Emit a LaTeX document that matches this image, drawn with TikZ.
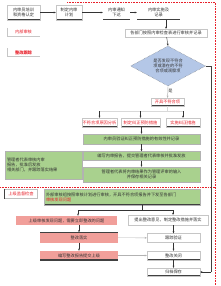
\documentclass[tikz,border=0pt]{standalone}
\usepackage{fontspec}
\newfontfamily\cjk{Noto Sans CJK SC}
\usetikzlibrary{arrows.meta,shapes.geometric}
\definecolor{gfill}{HTML}{A9D18E}
\definecolor{pfill}{HTML}{F19F9A}
\definecolor{bfill}{HTML}{B4C7E7}
\definecolor{rtext}{HTML}{E8202A}
\begin{document}
\begin{tikzpicture}[x=1pt,y=-1pt,
  >={Stealth[length=2.2pt,width=1.8pt]},
  every node/.style={font=\cjk\fontsize{4.2}{5.2}\selectfont, inner sep=0.5pt, align=center, text=black!80},
  box/.style={draw=gray!45, line width=0.3pt, minimum width=#1},
  box/.default=30,
  bb/.style={path picture={\draw[line width=1.4pt,black!75] (path picture bounding box.south west) -- (path picture bounding box.south east);}},
  tb/.style={path picture={\draw[line width=1.4pt,black!75] (path picture bounding box.north west) -- (path picture bounding box.north east);}},
  lb/.style={path picture={\draw[line width=1.4pt,black!75] (path picture bounding box.south west) -- (path picture bounding box.north west);}},
  green/.style={fill=gfill, draw=gray!60, line width=0.3pt},
  pink/.style={fill=pfill, draw=none},
  red/.style={text=rtext},
  arr/.style={->, line width=0.4pt, black!80},
  larr/.style={->, line width=0.4pt, gray!60},
  reddot/.style={rtext, densely dotted, line width=0.6pt}
]
\useasboundingbox (0,0) rectangle (220,286);
\fill[white] (0,0) rectangle (220,286);

% red dotted frame
\draw[reddot] (67,2) -- (215,2) -- (215,286);
\draw[reddot] (0,187) -- (215,187);

% top row
\node[box, bb, minimum width=33, minimum height=15] (t1) at (23.5,12.5) {内审员培训\\和资格认定};
\node[box, bb, minimum width=26, minimum height=15] (t2) at (69,12.5) {制定内审\\计划};
\node[box, bb, minimum width=27, minimum height=15, draw=none] (t3) at (116.5,12.5) {内审通知\\下达};
\node[box, bb, minimum width=43, minimum height=15, draw=none] (t4) at (158.5,12.5) {内审实施及\\记录};
\draw[arr] (t1) -- (t2);
\draw[arr] (t2) -- (t3);
\draw[arr] (t3) -- (t4);

% left labels
\node[draw=none, minimum width=33, minimum height=8, red] (l1) at (23.5,32) {内部审核};
\draw[gray!45, line width=0.4pt] (l1.north west) -- (l1.south west) -- (l1.south east);
\node[draw=none, minimum width=33, minimum height=8, red, font=\cjk\bfseries\fontsize{4.2}{5.2}\selectfont] (l2) at (23.5,52.5) {整改跟踪};
\draw[gray!45, line width=0.4pt] (l2.north west) -- (l2.south west) -- (l2.south east);

% check box
\node[box, minimum width=82, minimum height=8] (ck) at (166,33) {各部门按照内审检查表进行审核并记录};
\draw[arr] (ck.north |- t4.south) -- (ck.north);

% diamond
\node[diamond, aspect=1.9, fill=bfill, draw=black!60, densely dotted, line width=0.4pt, minimum width=75, minimum height=40, inner sep=0pt] (dm) at (168,66) {};
\node at (dm.center) {是否发现不符合\\项或潜在的不符\\合项或观察项};
\draw[arr] (ck) -- (dm.north);

% result
\node[box, bb, red, minimum width=33, minimum height=8] (rs) at (167.5,102) {开具不符合项};
\draw[larr] (dm.south) -- node[right, pos=0.45, text=black!80] {是} (rs.north);

% three boxes
\node[box, bb, red, minimum width=35, minimum height=9] (b1) at (99.5,122.5) {不符合项原因分析};
\node[box, bb, red, minimum width=39, minimum height=9] (b2) at (140.5,122.5) {制定纠正预防措施};
\node[box, bb, red, minimum width=34, minimum height=9] (b3) at (183,122.5) {实施纠正措施};
\coordinate (sp) at (167.5,111);
\draw[gray!30, line width=0.3pt] (rs.south) -- (sp);
\draw[gray!30, line width=0.3pt] (b1.north |- sp) -- (b3.north |- sp);
\draw[arr] (b1.north |- sp) -- (b1.north);
\draw[arr] (b2.north |- sp) -- (b2.north);
\draw[arr] (b3.north |- sp) -- (b3.north);

% green bars
\node[green, lb, minimum width=117, minimum height=10] (g1) at (141.5,139) {内审员验证纠正预防措施的有效性并记录};
\node[green, lb, minimum width=117, minimum height=9] (g2) at (141.5,156) {编写内审报告，提交管理者代表审核并批准发放};
\node[green, lb, minimum width=117, minimum height=15] (g3) at (141.5,174.5) {管理者代表将内审结果作为管理评审的输入\\并保存相关记录};
\draw[arr] (b2.south -| g1.north) -- (g1.north);
\draw[arr] (g1) -- (g2);
\draw[arr] (g2) -- (g3);
\node[green, minimum width=77, minimum height=28, align=left, text width=73] (gl) at (43.5,165) {管理者代表审核内审\\报告，批准后发放\\相关部门，并跟踪落实结果};

% right feedback line
\coordinate (rc) at (211,66);
\coordinate (rd) at (211,272);

% external audit
\node[box, red, minimum width=33, minimum height=9, draw=gray!50] (ex) at (21,194) {上级监督检查};
\draw[black!75, line width=0.8pt] (ex.north west) -- (ex.south west);
\node[green, bb, minimum width=156, minimum height=16, align=left, text width=152] (g4) at (122,197) {外部审核组按照审核计划进行审核，开具不符合项报告并下发至各部门\\\textcolor{rtext}{审核发现问题}};

% bottom section
\node[pink, minimum width=101, minimum height=9] (p1) at (66.5,220.5) {上级审核发现问题，需要立即整改的问题};
\node[box, tb, minimum width=80, minimum height=10] (w1) at (168,220) {提出整改意见，制定整改措施并落实};
\node[pink, tb, minimum width=78, minimum height=10] (p2) at (79,237.5) {整改落实};
\node[box, bb, minimum width=53, minimum height=9] (w2) at (173.5,238) {跟踪验证};
\node[pink, bb, minimum width=78, minimum height=9] (p3) at (79,255.5) {编写整改报告提交上级};
\node[box, bb, minimum width=53, minimum height=9] (w3) at (173.5,255.5) {整改关闭};
\node[box, bb, minimum width=53, minimum height=8] (w4) at (173.5,272) {归档保存};

\coordinate (sp2) at (142,210);
\draw[black!80, line width=0.4pt] (g4.south -| sp2) -- (sp2);
\draw[black!80, line width=0.4pt] (78,210) -- (173,210);
\draw[arr] (78,210) -- (p1.north -| 78,0);
\draw[arr] (173,210) -- (w1.north -| 173,0);
\draw[arr] (p1.south -| p2.north) -- (p2.north);
\draw[arr] (w1.south -| w2.north) -- (w2.north);
\draw[larr] (p2) -- (w2);
\draw[arr] (p2) -- (p3);
\draw[arr] (w2) -- (w3);
\draw[larr] (p3) -- (w3);
\draw[arr] (w3) -- (w4);

\draw[black!75, line width=0.5pt] (dm.east) -- (rc) -- (rd);
\draw[arr] (rd) -- (w4.east);
\end{tikzpicture}
\end{document}
